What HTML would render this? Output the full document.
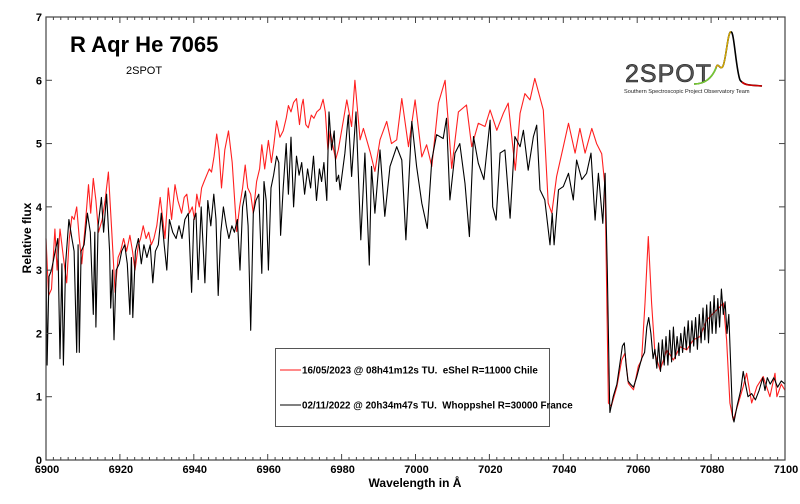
<!DOCTYPE html>
<html><head><meta charset="utf-8"><style>
html,body{margin:0;padding:0;background:#fff;}
svg{display:block;font-family:"Liberation Sans",Arial,sans-serif;}
.pre{white-space:pre;}
</style></head><body>
<svg id="chart" width="800" height="504" viewBox="0 0 800 504" xmlns="http://www.w3.org/2000/svg">
<rect x="0" y="0" width="800" height="504" fill="#fff"/>
<g id="series"></g>
<g id="axes"></g>
<text x="70" y="52" font-size="22" font-weight="bold">R Aqr He 7065</text>
<text x="126" y="74" font-size="11">2SPOT</text>
<text x="415" y="487" font-size="12" font-weight="bold" text-anchor="middle">Wavelength in Å</text>
<text x="31" y="238" font-size="12" font-weight="bold" text-anchor="middle" transform="rotate(-90 31 238)">Relative flux</text>
<g>
<rect x="275.5" y="348.5" width="274" height="78" fill="#fff" stroke="#555" stroke-width="1"/>
<g>
<line x1="280" y1="370" x2="301" y2="370" stroke="#f44" stroke-width="1.2"/>
<text class="pre" x="302" y="373.5" font-size="9.8" font-weight="bold">16/05/2023 @ 08h41m12s TU.  eShel R=11000 Chile</text>
</g>
<g>
<line x1="280" y1="405" x2="301" y2="405" stroke="#000" stroke-width="1"/>
<text class="pre" x="302" y="408.5" font-size="9.8" font-weight="bold">02/11/2022 @ 20h34m47s TU.  Whoppshel R=30000 France</text>
</g>
</g>
<g>
<text x="625" y="82" font-size="25" fill="#555" stroke="#222" stroke-width="0.6" letter-spacing="1">2SPOT</text>
<path d="M694,84 C705,84 712,78 716,68 C718,60 720,72 723,66 C726,60 728,30 731,32 C734,30 736,70 740,80 C744,86 752,85 762,86" fill="none" stroke="#000" stroke-width="1.6"/>
<path d="M716,68 C718,60 720,72 723,66 C726,60 728,30 731,32" fill="none" stroke="#d4a800" stroke-width="1.4"/>
<path d="M694,84 C705,84 712,78 716,68" fill="none" stroke="#7c3" stroke-width="1.6"/>
<path d="M742,82 C746,86 752,85 762,86" fill="none" stroke="#c00" stroke-width="1.6"/>
<text x="624" y="93" font-size="5.6" fill="#222">Southern Spectroscopic Project Observatory Team</text>
</g>
</svg>
<script>
const redWl=[6900,6900.7,6901.5,6902.4,6903.0,6903.8,6904.7,6905.6,6906.3,6907.0,6907.6,6908.3,6909.0,6909.7,6910.6,6911.5,6912.1,6912.8,6913.5,6914.2,6915.2,6916.0,6916.9,6917.8,6918.7,6919.5,6920.2,6921.0,6921.8,6922.7,6923.4,6924.1,6925.0,6925.6,6926.3,6927.1,6927.8,6928.5,6929.2,6930.0,6930.9,6931.6,6932.2,6933.1,6934.0,6934.9,6935.7,6936.7,6937.4,6938.1,6938.8,6939.6,6940.2,6940.8,6941.5,6942.1,6942.8,6943.5,6944.2,6944.8,6945.5,6946.2,6946.8,6947.5,6948.4,6949.4,6950.4,6951.6,6952.4,6953.2,6953.9,6954.6,6955.4,6956.1,6957.0,6957.8,6958.4,6959.2,6960.2,6961.0,6961.7,6962.4,6963.3,6964.2,6965.0,6965.6,6966.3,6967.0,6967.8,6968.6,6969.2,6969.6,6970.3,6971.0,6971.8,6972.5,6973.3,6974.2,6975.0,6975.6,6976.3,6976.9,6977.5,6978.4,6979.1,6980.5,6981.4,6982.7,6983.6,6985.0,6985.9,6987.7,6989.0,6990.4,6992.2,6993.5,6994.9,6996.3,6998.1,6999.9,7001.7,7003.0,7004.4,7006.2,7008.0,7009.8,7011.6,7013.8,7015.2,7017.0,7018.8,7020.2,7022.0,7023.8,7025.1,7027.0,7028.3,7029.6,7031.0,7032.3,7034.6,7035.9,7036.9,7038.2,7040.0,7041.4,7043.2,7044.5,7045.9,7047.7,7049.0,7050.4,7051.3,7052.2,7053.0,7054.5,7055.8,7056.7,7057.6,7059.0,7060.3,7061.2,7062.1,7063.0,7063.9,7064.8,7066.2,7068.0,7069.8,7071.6,7073.4,7075.2,7077.0,7078.8,7080.6,7082.4,7083.3,7084.2,7085.1,7086.0,7087.4,7088.7,7089.6,7091.0,7092.4,7094.1,7095.9,7097.3,7097.8,7099,7100];
const redFlux=[3.5,2.6,2.7,3.65,3.0,3.65,3.2,2.8,3.5,3.85,3.8,4.0,3.5,3.1,3.7,4.35,3.9,4.45,4.1,3.6,3.8,4.1,4.55,3.6,2.65,3.2,3.3,3.5,3.3,3.55,3.3,3.0,3.4,3.5,3.7,3.5,3.6,3.4,3.5,3.7,4.15,3.8,3.5,4.3,3.8,4.35,4.1,3.9,4.15,4.2,3.9,4.0,3.8,4.2,4.0,4.3,4.4,4.5,4.6,4.55,4.8,5.15,4.9,4.3,4.9,5.2,4.7,3.61,4.0,4.3,4.66,4.3,4.2,3.9,4.4,4.6,4.98,4.6,5.05,4.7,5.0,5.36,5.1,5.2,5.4,5.6,5.5,5.65,5.71,5.3,5.6,5.7,5.3,5.25,5.45,5.4,5.5,5.55,5.7,5.5,4.9,5.2,5.0,4.75,4.9,5.37,5.69,5.27,6.0,5.06,5.24,4.87,4.56,5.06,5.35,5.0,5.06,5.71,4.95,5.69,4.79,4.98,4.64,5.64,6.0,4.61,5.5,5.61,4.95,5.32,5.27,5.53,5.21,5.48,5.64,4.58,5.48,5.79,5.69,6.03,5.53,4.06,3.9,4.48,4.95,5.32,4.85,5.24,4.85,5.24,5.0,4.84,4.3,0.9,0.85,1.16,1.58,1.69,1.21,1.11,1.48,1.58,2.48,3.53,2.48,1.69,1.42,1.74,1.58,1.79,1.74,1.9,1.95,2.21,2.32,2.42,2.48,1.9,0.9,0.63,0.9,1.16,1.37,0.9,1.16,1.32,1.0,1.37,1.0,1.2,1.1];
const blackWl=[6900.0,6900.3,6900.8,6901.5,6902.5,6903.2,6903.8,6904.3,6904.7,6905.3,6906.2,6907.0,6907.6,6908.3,6908.7,6909.0,6909.5,6910.3,6911.2,6912.0,6912.8,6913.2,6913.5,6914.1,6915.0,6915.6,6916.4,6917.2,6917.5,6918.0,6918.4,6919.0,6919.8,6920.5,6921.3,6922.0,6922.7,6923.1,6923.5,6924.2,6925.0,6925.8,6926.5,6927.3,6928.2,6928.9,6929.6,6930.4,6931.2,6932.0,6932.7,6933.4,6934.3,6935.2,6936.0,6936.8,6937.6,6938.5,6939.4,6940.0,6940.6,6941.2,6942.0,6943.0,6943.8,6944.6,6945.4,6946.0,6946.6,6947.3,6948.0,6948.8,6949.5,6950.3,6951.0,6951.8,6952.5,6953.2,6954.0,6954.7,6955.4,6956.1,6956.8,6957.6,6958.4,6959.0,6959.6,6960.2,6960.9,6961.6,6962.4,6963.0,6963.5,6964.2,6965.0,6965.6,6966.3,6967.0,6967.8,6968.5,6969.2,6970.0,6970.8,6971.6,6972.4,6973.2,6974.0,6974.6,6975.2,6976.0,6976.6,6977.3,6978.0,6978.6,6979.2,6979.6,6980.9,6981.8,6982.7,6983.9,6985.2,6986.3,6987.5,6988.1,6989.0,6990.4,6991.7,6993.1,6994.9,6996.3,6997.4,6999.0,7000.3,7001.7,7003.2,7004.4,7005.7,7007.5,7008.4,7009.3,7010.7,7012.0,7013.4,7014.6,7015.7,7017.0,7018.5,7020.2,7020.9,7021.8,7022.9,7024.2,7025.6,7026.9,7028.3,7029.2,7030.5,7031.9,7032.8,7033.7,7035.0,7036.4,7037.0,7037.5,7038.7,7040.0,7041.4,7042.7,7043.6,7045.0,7046.3,7047.5,7048.6,7049.5,7050.7,7051.3,7051.9,7052.5,7052.6,7053.5,7054.5,7055.5,7056.0,7056.5,7057.0,7057.5,7058.2,7059.0,7059.8,7060.5,7061.2,7062.0,7062.6,7063.1,7063.7,7064.3,7064.8,7065.3,7065.8,7066.3,7066.8,7067.3,7067.8,7068.3,7068.8,7069.3,7069.8,7070.3,7070.8,7071.3,7071.8,7072.3,7072.8,7073.3,7073.8,7074.3,7074.8,7075.3,7075.8,7076.3,7076.8,7077.3,7077.8,7078.3,7078.8,7079.3,7079.8,7080.3,7080.8,7081.3,7081.8,7082.3,7082.8,7083.3,7083.8,7084.3,7084.8,7085.3,7085.8,7086.2,7087.0,7088.0,7088.7,7089.3,7090.0,7091.0,7092.0,7093.0,7094.0,7094.6,7095.2,7096.0,7097.0,7098.0,7099.0,7100];
const blackFlux=[3.5,1.5,2.9,3.0,3.3,3.5,1.6,3.1,1.5,3.1,3.8,3.5,3.3,1.7,3.4,1.7,3.3,3.4,3.9,3.6,2.3,3.6,2.1,3.7,4.15,3.6,4.2,3.3,2.4,3.0,1.9,3.0,3.1,3.3,3.4,3.1,2.3,3.2,2.25,3.3,3.5,3.1,3.4,3.2,3.4,2.8,3.3,3.4,3.9,3.4,3.0,3.8,3.6,3.5,3.7,3.5,3.8,3.9,2.65,3.8,3.9,2.85,4.0,2.8,4.1,3.7,4.2,3.8,2.6,3.6,4.0,3.7,3.5,3.7,3.6,3.8,3.0,4.0,4.25,3.7,2.05,3.9,4.1,4.2,2.95,4.4,4.1,3.0,4.3,4.5,4.8,4.7,3.55,4.3,5.0,4.2,5.1,4.0,4.8,4.5,4.7,4.2,4.6,4.3,4.8,4.1,4.6,4.4,4.7,4.1,5.5,4.9,5.2,4.4,4.5,4.27,4.85,5.45,4.48,5.5,3.48,4.85,3.08,4.64,3.9,4.9,3.85,4.64,4.95,4.74,3.48,5.35,4.64,4.06,3.66,4.74,5.14,5.08,5.4,4.11,4.85,5.0,4.37,3.53,5.11,4.69,4.43,5.37,4.0,3.79,4.85,4.9,3.82,5.11,4.95,5.21,4.58,5.11,5.29,4.27,4.11,3.4,3.9,3.4,4.27,4.32,4.53,4.11,4.74,4.43,4.53,4.85,3.79,4.53,3.74,4.53,3.0,1.0,0.75,1.0,1.2,1.6,1.8,1.85,1.5,1.25,1.2,1.15,1.3,1.45,1.6,1.7,2.1,2.25,2.0,1.6,1.75,1.45,1.85,1.4,1.9,1.5,1.95,1.5,2.05,1.55,2.1,1.6,1.95,1.65,2.0,1.7,2.1,1.75,2.2,1.7,2.2,1.8,2.25,1.75,2.3,1.85,2.4,1.9,2.45,1.85,2.5,2.0,2.6,2.0,2.55,2.1,2.7,2.3,2.5,2.0,2.3,1.5,0.7,0.6,0.85,1.1,1.4,1.2,1.0,1.05,0.95,1.1,1.3,1.1,1.3,1.2,1.3,1.15,1.25,1.2];
const xTicks=[6900,6920,6940,6960,6980,7000,7020,7040,7060,7080,7100];
const yTicks=[0,1,2,3,4,5,6,7];

const NS='http://www.w3.org/2000/svg';
const X0=46,X1=785,Y0=460,Y1=17;
function xs(w){return X0+(w-6900)/200*(X1-X0);}
function ys(v){return Y0-v/7*(Y0-Y1);}
const series=document.getElementById('series');
const axes=document.getElementById('axes');
function poly(wl,fl,color,wdt,name){
  const p=document.createElementNS(NS,'polyline');
  p.setAttribute('points',wl.map((w,i)=>xs(w).toFixed(1)+','+ys(fl[i]).toFixed(1)).join(' '));
  p.setAttribute('fill','none');p.setAttribute('stroke',color);p.setAttribute('stroke-width',wdt);
  p.setAttribute('stroke-linejoin','round');
  
  
  series.appendChild(p);
}
poly(redWl,redFlux,'#ff2020',1.1,'series-red-2023');
poly(blackWl,blackFlux,'#000',1.1,'series-black-2022');
function ln(x1,y1,x2,y2,c,w){const l=document.createElementNS(NS,'line');l.setAttribute('x1',x1);l.setAttribute('y1',y1);l.setAttribute('x2',x2);l.setAttribute('y2',y2);l.setAttribute('stroke',c||'#444');l.setAttribute('stroke-width',w||1);axes.appendChild(l);return l;}
const frame=document.createElementNS(NS,'rect');
frame.setAttribute('x',X0);frame.setAttribute('y',Y1);frame.setAttribute('width',X1-X0);frame.setAttribute('height',Y0-Y1);
frame.setAttribute('fill','none');frame.setAttribute('stroke','#444');frame.setAttribute('stroke-width','1.2');


axes.appendChild(frame);
for(let w=6900;w<=7100;w+=2){
  const major=(w%20===0);const L=major?6:3;const x=xs(w);
  ln(x,Y0,x,Y0-L);ln(x,Y1,x,Y1+L);
}
xTicks.forEach(w=>{
  const t=document.createElementNS(NS,'text');
  t.setAttribute('x',xs(w)+1);t.setAttribute('y',Y0+13);t.setAttribute('font-size','11');t.setAttribute('font-weight','bold');t.setAttribute('text-anchor','middle');
  t.textContent=w;
  
  
  axes.appendChild(t);
});
yTicks.forEach(v=>{
  const y=ys(v);
  ln(X0,y,X0+6,y);ln(X1,y,X1-6,y);
  const t=document.createElementNS(NS,'text');
  t.setAttribute('x',X0-4);t.setAttribute('y',y+4);t.setAttribute('font-size','11');t.setAttribute('font-weight','bold');t.setAttribute('text-anchor','end');
  t.textContent=v;
  
  
  axes.appendChild(t);
});
</script>
</body></html>
